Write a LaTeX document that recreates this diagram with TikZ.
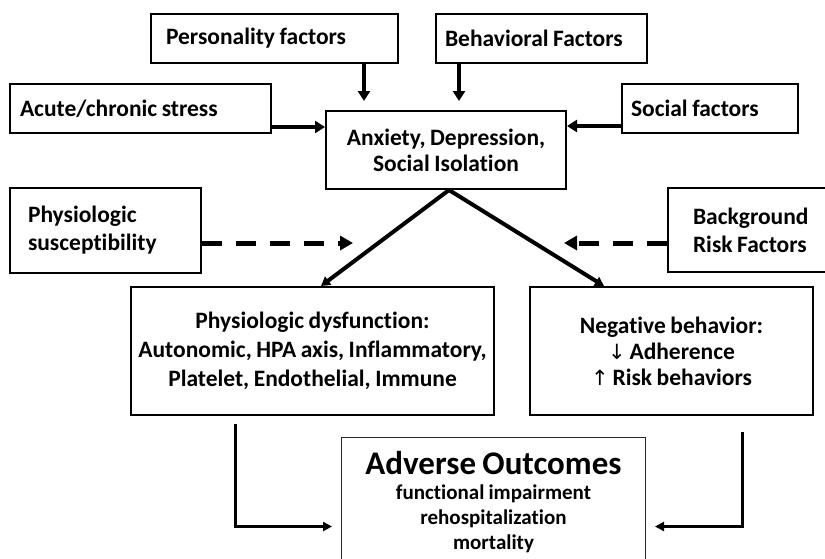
\documentclass[tikz,border=0pt]{standalone}
\usepackage{fontspec}
\setmainfont{Carlito}[Ligatures=NoCommon, WordSpace=0.85]
\newfontfamily\arrfont{DejaVu Sans}
\usetikzlibrary{arrows.meta}
\begin{document}
\begin{tikzpicture}[x=1pt,y=-1pt,
  box/.style={draw, line width=2pt, anchor=north west, font=\bfseries\fontsize{23.5}{26}\selectfont},
  lbox/.style={box, align=flush left},
  cbox/.style={box, align=center, inner sep=2pt},
  fat/.style={line width=4pt, -{Triangle[length=10pt,width=12pt]}},
  dasharr/.style={line width=5pt, dash pattern=on 20pt off 14pt, -{Triangle[length=13pt,width=14pt]}},
  diag/.style={line width=4pt, -{Triangle[length=9pt,width=10pt]}},
  bot/.style={line width=3pt, -{Triangle[length=9pt,width=9pt]}}
]
\clip (0,0) rectangle (825,558);
\node[lbox, text width=217pt, inner xsep=15pt, minimum height=49pt] (pers) at (150,13) {Personality factors};
\node[lbox, text width=193pt, inner xsep=9pt, minimum height=49pt] (beh) at (435,13) {Behavioral Factors};
\node[lbox, text width=241pt, inner xsep=10pt, minimum height=49pt] (acute) at (9,83) {Acute/chronic stress};
\node[lbox, text width=158pt, inner xsep=9pt, minimum height=49pt] (soc) at (621,83) {Social factors};
\node[cbox, minimum width=240pt, minimum height=78pt] (cen) at (325,110) {Anxiety, Depression,\\Social Isolation};
\node[lbox, text width=155pt, inner xsep=18pt, minimum height=85pt, font=\bfseries\fontsize{23.5}{28}\selectfont] (phys) at (9,187) {Physiologic\\susceptibility};
\node[lbox, text width=130pt, inner xsep=25pt, minimum height=84pt, font=\bfseries\fontsize{23.5}{28}\selectfont] (bg) at (667,187) {Background\\Risk Factors};
\node[cbox, minimum width=363pt, minimum height=128pt, font=\bfseries\fontsize{23.5}{29}\selectfont] (pd) at (130,286) {Physiologic dysfunction:\\Autonomic, HPA axis, Inflammatory,\\Platelet, Endothelial, Immune};
\node[cbox, minimum width=283pt, minimum height=128pt] (neg) at (529,286) {Negative behavior:\\{\arrfont\mdseries\fontsize{21}{26}\selectfont ↓}\,Adherence\\{\arrfont\mdseries\fontsize{21}{26}\selectfont ↑}\,Risk behaviors};
\node[draw=black!85, line width=1pt, anchor=north west, minimum width=304pt, minimum height=130pt, align=center, font=\bfseries\fontsize{21}{25}\selectfont] (adv) at (341,437) {{\fontsize{33}{30}\selectfont Adverse Outcomes}\\functional impairment\\rehospitalization\\mortality};
% solid arrows into the central box
\draw[fat, shorten >=9pt] ([xshift=-35pt]pers.south east) -- ([xshift=-35pt]pers.south east |- cen.north);
\draw[fat, shorten >=9pt] ([xshift=24pt]beh.south west) -- ([xshift=24pt]beh.south west |- cen.north);
\draw[fat] ([yshift=7pt]acute.south east) -- ([yshift=7pt]acute.south east -| cen.west);
\draw[fat] ([yshift=8pt]soc.south west) -- ([yshift=8pt]soc.south west -| cen.east);
% dashed
\coordinate (ptip) at (353,243);
\coordinate (btip) at (564,243);
\draw[dasharr] (phys.east |- ptip) -- (ptip);
\draw[dasharr] (bg.west |- btip) -- (btip);
% diagonals
\draw[diag] ([xshift=3pt]cen.south) -- ([xshift=8.5pt]pd.north);
\draw[diag] ([xshift=3pt]cen.south) -- ([xshift=-67.5pt]neg.north);
% bottom connectors
\draw[bot] ([xshift=105pt,yshift=-8pt]pd.south west) |- ([xshift=-9pt,yshift=-24pt]adv.west);
\draw[bot] ([xshift=-72pt,yshift=-16pt]neg.south east) |- ([xshift=9pt,yshift=-24pt]adv.east);
\end{tikzpicture}
\end{document}
